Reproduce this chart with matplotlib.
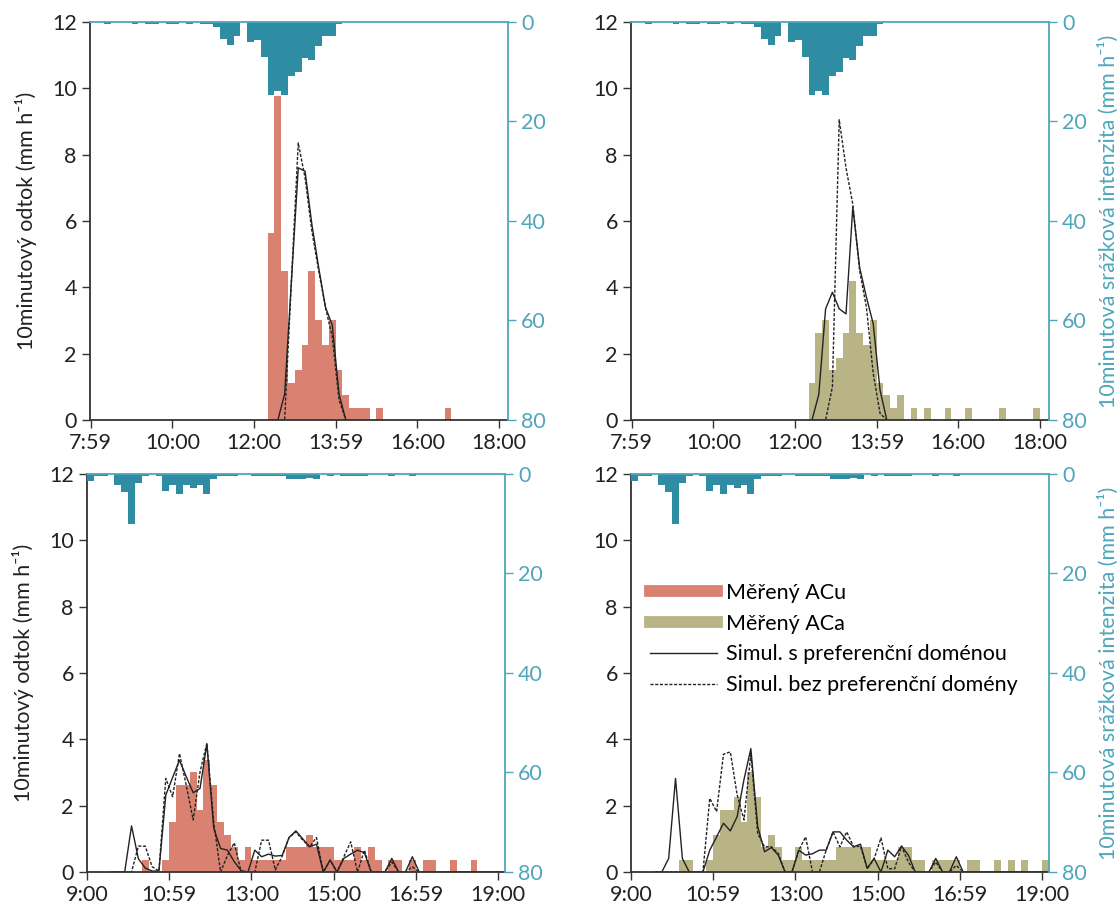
import matplotlib
matplotlib.use('Agg')
import matplotlib.pyplot as plt
from matplotlib.lines import Line2D
import numpy as np

plt.rcParams['font.family'] = ['Lato', 'DejaVu Sans']

# time in minutes since midnight, bars are 10-minute bins (left edge)
top_ticks = [480, 600, 720, 840, 960, 1080]
top_labels = ['7:59', '10:00', '12:00', '13:59', '16:00', '18:00']
bot_ticks = [540, 660, 780, 900, 1020, 1140]
bot_labels = ['9:00', '10:59', '13:00', '15:00', '16:59', '19:00']

# rainfall intensity (mm/h), event 1 (top row)
rain1_t = [500, 540, 560, 570, 590, 600, 620, 640, 650, 660, 670, 680, 690,
           710, 720, 730, 740, 750, 760, 770, 780, 790, 800, 810, 820, 830, 840]
rain1_v = [0.4, 0.4, 0.4, 0.4, 0.4, 0.4, 0.4, 0.4, 0.4, 1.1, 3.4, 4.7, 2.8,
           4.0, 3.55, 7.1, 14.7, 13.8, 14.7, 10.9, 10.0, 7.2, 7.6, 4.8, 2.9, 2.75, 0.4]

# rainfall intensity (mm/h), event 2 (bottom row)
rain2_t = [540, 550, 560, 580, 590, 600, 610, 620, 640, 650, 660, 670, 680, 690,
           700, 710, 720, 730, 740, 750, 780, 790, 800, 810, 820, 830, 840, 850,
           860, 870, 890, 910, 920, 930, 940, 980, 1010]
rain2_v = [1.5, 0.5, 0.5, 2.3, 3.6, 10.0, 1.8, 0.5, 0.5, 3.5, 2.3, 4.1, 2.3, 2.8,
           2.3, 4.1, 1.1, 0.5, 0.5, 0.5, 0.5, 0.5, 0.5, 0.5, 0.5, 1.1, 1.1, 1.1,
           0.9, 1.1, 0.5, 0.5, 0.5, 0.5, 0.5, 0.5, 0.5]

# measured runoff (mm/h)
acu1_t = [740, 750, 760, 770, 780, 790, 800, 810, 820, 830, 840, 850, 860, 870, 880, 900, 1000]
acu1_v = [5.625, 9.75, 4.5, 1.125, 1.5, 2.25, 4.5, 3.0, 2.25, 3.0, 1.5, 0.75,
          0.375, 0.375, 0.375, 0.375, 0.375]
aca1_t = [740, 750, 760, 770, 780, 790, 800, 810, 820, 830, 840, 850, 860, 870,
          890, 910, 940, 970, 1020, 1070]
aca1_v = [1.125, 2.625, 3.0, 1.5, 1.875, 2.625, 4.2, 2.625, 2.25, 3.0, 1.125, 0.75,
          0.375, 0.75, 0.375, 0.375, 0.375, 0.375, 0.375, 0.375]
acu2_t = [620, 650, 660, 670, 680, 690, 700, 710, 720, 730, 740, 750, 760, 770,
          780, 790, 800, 810, 820, 830, 840, 850, 860, 870, 880, 890, 900, 910,
          920, 930, 940, 950, 960, 980, 990, 1010, 1030, 1040, 1070, 1100]
acu2_v = [0.375, 0.375, 1.5, 2.625, 2.625, 3.0, 1.875, 3.375, 2.625, 1.5, 1.125,
          0.75, 0.375, 0.75, 0.375, 0.375, 0.375, 0.375, 0.375, 0.75, 0.75, 0.75,
          1.125, 0.75, 0.75, 0.75, 0.375, 0.375, 0.375, 0.75, 0.375, 0.75, 0.375,
          0.375, 0.375, 0.375, 0.375, 0.375, 0.375, 0.375]
aca2_t = [610, 620, 650, 660, 670, 680, 690, 700, 710, 720, 730, 740, 750, 760,
          770, 780, 790, 800, 810, 820, 830, 840, 850, 860, 870, 880, 890, 900,
          910, 920, 930, 940, 950, 960, 980, 990, 1000, 1010, 1030, 1040, 1070,
          1090, 1110, 1140]
aca2_v = [0.375, 0.375, 0.375, 1.125, 1.875, 1.875, 2.25, 1.5, 3.0, 2.25, 0.75,
          1.125, 0.75, 0.375, 0.375, 0.75, 0.375, 0.375, 0.375, 0.375, 0.375, 0.75,
          0.75, 0.75, 0.75, 0.75, 0.375, 0.375, 0.375, 0.375, 0.75, 0.75, 0.375,
          0.375, 0.375, 0.375, 0.375, 0.375, 0.375, 0.375, 0.375, 0.375, 0.375, 0.375]

# simulated runoff (mm/h), points at 10-minute steps
sim1_t = [745, 755, 765, 775, 785, 795, 805, 815, 825, 835, 845, 855]
acu1_pref = [0, 0, 0.78, 4.2, 7.6, 7.5, 5.9, 4.6, 3.4, 2.86, 0.78, 0]
acu1_nopref = [0, 0, 0, 4.2, 8.35, 7.3, 5.7, 4.5, 3.4, 2.5, 0.6, 0]
aca1_pref = [0, 0.77, 3.35, 3.85, 3.35, 3.2, 6.42, 4.6, 3.7, 2.9, 0.9, 0]
aca1_nopref = [0, 0, 0, 1.0, 9.05, 7.6, 6.5, 4.5, 3.4, 1.4, 0.2, 0]

sim2_t = [575, 585, 595, 605, 615, 625, 635, 645, 655, 665, 675, 685, 695, 705,
          715, 725, 735, 745, 755, 765, 775, 785, 795, 805, 815, 825, 835, 845,
          855, 865, 875, 885, 895, 905, 915, 925, 935, 945, 955, 965, 975, 985,
          995, 1005, 1015, 1025, 1145]
acu2_pref = [0, 0, 0, 1.39, 0.4, 0.12, 0.03, 0.03, 2.32, 2.85, 3.37, 2.87, 2.39,
             2.52, 3.86, 1.32, 0.71, 0.66, 0.31, 0.04, 0, 0.66, 0.46, 0.54, 0.48,
             0.5, 1.04, 1.24, 1.0, 0.76, 0.84, 0, 0.36, 0, 0.41, 0.54, 0.66, 0.58,
             0, 0, 0, 0.41, 0, 0, 0.46, 0, 0]
acu2_nopref = [0, 0, 0, 0, 0.78, 0.78, 0.16, 0.03, 2.82, 2.27, 3.57, 2.6, 1.57,
               3.02, 3.88, 1.5, 0, 0.5, 0.88, 0, 0, 0, 0.96, 0.96, 0.06, 0.48, 1.04,
               1.21, 0.96, 0.76, 1.04, 0, 0.36, 0, 0.46, 0.91, 0, 0.66, 0, 0, 0, 0.3,
               0, 0, 0.16, 0, 0]
aca2_pref = [0, 0, 0.41, 2.82, 0.41, 0, 0, 0, 0.66, 1.06, 1.47, 1.24, 1.67, 2.79,
             3.72, 1.37, 0.61, 0.74, 0.51, 0, 0, 0.66, 0.51, 0.55, 0.66, 0.66, 1.21,
             1.21, 0.96, 0.76, 0.84, 0.11, 0.41, 0, 0.66, 0.46, 0.78, 0.51, 0, 0, 0,
             0.41, 0, 0, 0.46, 0, 0]
aca2_nopref = [0, 0, 0, 0, 0, 0, 0, 0, 2.22, 1.82, 3.55, 3.62, 2.32, 1.57, 3.57,
               1.16, 0.76, 0.76, 0.56, 0, 0, 0.66, 1.06, 0, 0, 0.66, 1.21, 0.76,
               1.21, 0.76, 0.78, 0.1, 0.4, 1.03, 0.1, 0.1, 0.78, 0.3, 0, 0, 0, 0.3,
               0, 0, 0.2, 0, 0]

C_RAIN = '#2e8ca3'
C_TEAL = '#4fa6ba'
C_ACU = '#d98272'
C_ACA = '#b9b486'
C_AX = '#333333'
FS = 15.5

fig = plt.figure(figsize=(11.2, 9.06), dpi=100)

W = 0.373
H = 0.4395
positions = [
    [0.0804, 0.5364, W, H],
    [0.5634, 0.5364, W, H],
    [0.0777, 0.0375, W, H],
    [0.5634, 0.0375, W, H],
]

panels = [
    (acu1_t, acu1_v, C_ACU, sim1_t, acu1_pref, acu1_nopref, rain1_t, rain1_v, (479, 1093), top_ticks, top_labels),
    (aca1_t, aca1_v, C_ACA, sim1_t, aca1_pref, aca1_nopref, rain1_t, rain1_v, (479, 1093), top_ticks, top_labels),
    (acu2_t, acu2_v, C_ACU, sim2_t, acu2_pref, acu2_nopref, rain2_t, rain2_v, (540, 1150), bot_ticks, bot_labels),
    (aca2_t, aca2_v, C_ACA, sim2_t, aca2_pref, aca2_nopref, rain2_t, rain2_v, (540, 1150), bot_ticks, bot_labels),
]

for i, (bt, bv, bc, st, sp, sn, rt, rv, xl, xt, xlab) in enumerate(panels):
    ax = fig.add_axes(positions[i])
    ax.bar(bt, bv, width=10, align='edge', color=bc, linewidth=0)
    ax.plot(st, sp, color='#222222', lw=1.0)
    ax.plot(st, sn, color='#222222', lw=1.0, ls=(0, (2.2, 1.2)))
    ax.set_xlim(*xl)
    ax.set_ylim(0, 12)
    ax.set_yticks(range(0, 13, 2))
    ax.set_xticks(xt)
    ax.set_xticklabels(xlab)
    ax.tick_params(axis='both', labelsize=FS, color=C_AX, length=6, width=1, labelcolor='#222222')
    for s in ['left', 'bottom']:
        ax.spines[s].set_color(C_AX)
        ax.spines[s].set_linewidth(1.3)
    ax.spines['right'].set_visible(False)
    ax.spines['top'].set_visible(False)

    ax2 = ax.twinx()
    ax2.bar(rt, rv, width=10, align='edge', color=C_RAIN, linewidth=0)
    ax2.set_ylim(80, 0)
    ax2.set_yticks(range(0, 81, 20))
    ax2.set_xlim(*xl)
    ax2.tick_params(axis='y', labelsize=FS, colors=C_TEAL, length=6, width=1)
    for s in ['left', 'bottom']:
        ax2.spines[s].set_visible(False)
    for s in ['right', 'top']:
        ax2.spines[s].set_color(C_TEAL)
        ax2.spines[s].set_linewidth(1.3)

    if i % 2 == 0:
        ax.set_ylabel('10minutový odtok (mm h⁻¹)', fontsize=FS, color='#222222')
        ax.yaxis.set_label_coords(-0.128, 0.5)
    else:
        ax2.set_ylabel('10minutová srážková intenzita (mm h⁻¹)', fontsize=FS, color=C_TEAL)
        ax2.yaxis.set_label_coords(1.116, 0.5)

    if i == 3:
        handles = [
            Line2D([], [], color=C_ACU, lw=8.5),
            Line2D([], [], color=C_ACA, lw=8.5),
            Line2D([], [], color='#222222', lw=1.0),
            Line2D([], [], color='#222222', lw=1.0, ls=(0, (2.2, 1.2))),
        ]
        labels = ['Měřený ACu', 'Měřený ACa', 'Simul. s preferenční doménou',
                  'Simul. bez preferenční domény']
        ax.legend(handles, labels, loc='upper left', bbox_to_anchor=(0.0, 0.775),
                  frameon=False, fontsize=FS, handlelength=3.1, handletextpad=0.4,
                  labelspacing=0.5)

fig.savefig('out.png', dpi=100)
